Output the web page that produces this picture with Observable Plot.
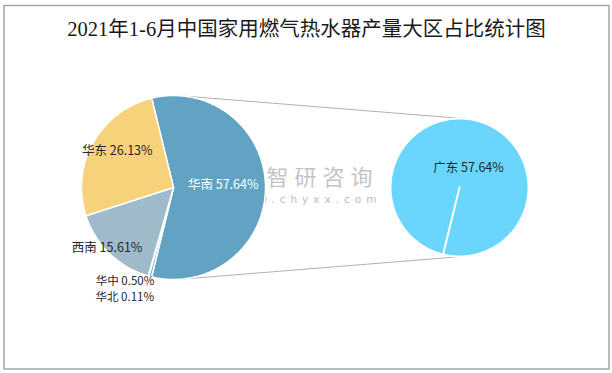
<!DOCTYPE html>
<html><head><meta charset="utf-8">
<script src="https://cdn.jsdelivr.net/npm/d3@7"></script>
<script src="https://cdn.jsdelivr.net/npm/@observablehq/plot@0.6"></script>
<style>body{margin:0;background:#fff}</style>
</head><body><div id="chart"></div>
<script>
// ---- data ----
const title = "2021年1-6月中国家用燃气热水器产量大区占比统计图";
const regions = ["华南", "华中", "华北", "西南", "华东"];
const shares = [57.64, 0.50, 0.11, 15.61, 26.13];
const subRegions = ["广东"];
const subShares = [57.64];
const watermark = ["智研咨询", "www.chyxx.com"];

// ---- layout / style ----
const W = 612, H = 373;
const L = {cx: 173, cy: 187, r: 92};
const R = {cx: 459, cy: 187, r: 69};
const colors = ["#62a3c4", "#7fb3cc", "#a9c8d6", "#9fbbc9", "#f6d27b"];
const subColors = ["#6ad6fd"];
const labelLayout = [
  {k: 0.54, dx: 0, dy: -3, fill: "#ffffff", size: 12.5},
  {k: 1.05, dx: -24, dy: 0, fill: "#262626", size: 11.5},
  {k: 1.15, dx: -20, dy: 7.5, fill: "#262626", size: 11.5},
  {k: 0.96, dx: -5, dy: -3, fill: "#262626", size: 12.5},
  {k: 0.70, dx: 0, dy: -5, fill: "#262626", size: 12.5}
];
const fontCJK = "'Noto Sans CJK SC', 'Noto Sans', sans-serif";

const rad = d => d * Math.PI / 180;
const polar = (c, r, deg) => [c.cx + r * Math.sin(rad(deg)), c.cy - r * Math.cos(rad(deg))];

// main pie: first slice centred at 3 o'clock
const total = d3.sum(shares);
let acc = 90 - shares[0] / total * 180;
const slices = regions.map((name, i) => {
  const a0 = acc, a1 = acc + shares[i] / total * 360;
  acc = a1;
  return {name, value: shares[i], a0, a1, color: colors[i], lay: labelLayout[i]};
});
const subStart = slices[0].a1;
const subTotal = d3.sum(subShares);
let acc2 = subStart;
const subSlices = subRegions.map((name, i) => {
  const a0 = acc2, a1 = acc2 + subShares[i] / subTotal * 360;
  acc2 = a1;
  return {name, value: subShares[i], a0, a1, color: subColors[i]};
});

function slicePoints(s, c) {
  const pts = [{name: s.name, color: s.color, x: c.cx, y: c.cy}];
  const n = Math.max(2, Math.ceil((s.a1 - s.a0) / 1));
  for (let j = 0; j <= n; j++) {
    const [x, y] = polar(c, c.r, s.a0 + (s.a1 - s.a0) * j / n);
    pts.push({name: s.name, color: s.color, x, y});
  }
  pts.push({name: s.name, color: s.color, x: c.cx, y: c.cy});
  return pts;
}
const pts = slices.flatMap(s => slicePoints(s, L));
const subPts = subSlices.flatMap(s => slicePoints(s, R));

// labels
const fmt = v => v.toFixed(2) + "%";
const labels = slices.map(s => {
  const mid = (s.a0 + s.a1) / 2;
  const [x, y] = polar(L, L.r * s.lay.k, mid);
  return {text: s.name + " " + fmt(s.value), x: x + s.lay.dx, y: y + s.lay.dy, fill: s.lay.fill, size: s.lay.size};
});
const subLabels = subSlices.map(s => ({text: s.name + " " + fmt(s.value), x: R.cx + 9, y: R.cy - 20}));

// connector lines: external common tangents of the two circles
const d = R.cx - L.cx;
const th = Math.asin((L.r - R.r) / d) * 180 / Math.PI;
const links = [th, 180 - th].map(a => {
  const [x1, y1] = polar(L, L.r, a);
  const [x2, y2] = polar(R, R.r, a);
  return {x1, y1, x2, y2};
});

const chart = Plot.plot({
  width: W, height: H,
  margin: 0,
  x: {domain: [0, W], range: [0, W], axis: null},
  y: {domain: [0, H], range: [0, H], axis: null},
  color: {type: "identity"},
  style: {background: "#fff"},
  marks: [
    Plot.frame({stroke: "#a6a6a6", strokeWidth: 1.5, insetLeft: 3.5, insetTop: 5, insetRight: 3.5, insetBottom: 4.5}),
    Plot.text([title], {x: W / 2, y: 29, text: d => d, fontSize: 20.5, fill: "#1a1a1a",
      fontFamily: "'Liberation Serif', 'Noto Sans CJK SC', serif"}),
    Plot.link(links, {x1: "x1", y1: "y1", x2: "x2", y2: "y2", stroke: "#b0b0b0", strokeWidth: 1}),
    Plot.text([watermark[0]], {x: 322, y: 177, text: d => d, fontSize: 22, fill: "#c4c4c4", fontFamily: fontCJK, className: "wm1"}),
    Plot.text([watermark[1]], {x: 306, y: 199, text: d => d, fontSize: 10.5, fill: "#bcbcbc", fontFamily: "'DejaVu Sans', sans-serif", className: "wm2"}),
    Plot.line(pts, {x: "x", y: "y", z: "name", fill: "color", stroke: "#ffffff", strokeWidth: 1.5, curve: "linear"}),
    Plot.line(subPts, {x: "x", y: "y", z: "name", fill: "color", stroke: "#ffffff", strokeWidth: 2, curve: "linear"}),
    Plot.text(labels, {x: "x", y: "y", text: "text", fill: "fill", fontSize: "size", fontFamily: fontCJK}),
    Plot.text(subLabels, {x: "x", y: "y", text: "text", fill: "#262626", fontSize: 12.5, fontFamily: fontCJK})
  ]
});
d3.select(chart).selectAll(".wm1 text").style("letter-spacing", "6px");
d3.select(chart).selectAll(".wm2 text").style("letter-spacing", "5px");
document.getElementById("chart").appendChild(chart);
</script>
</body></html>
